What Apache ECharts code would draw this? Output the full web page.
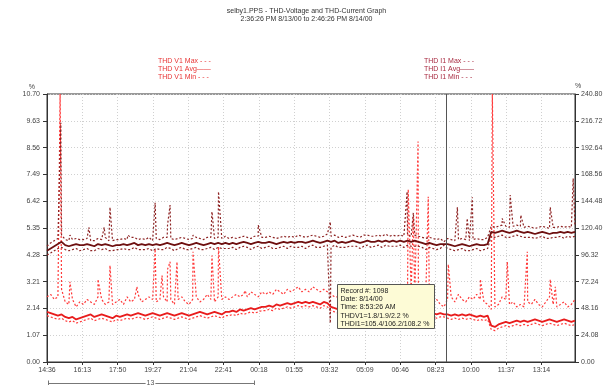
<!DOCTYPE html>
<html lang="en">
<head>
<meta charset="UTF-8">
<title>THD-Voltage and THD-Current Graph</title>
<script src="https://cdn.jsdelivr.net/npm/echarts@6/dist/echarts.min.js"></script>
<style>
  body { margin: 0; background: #fff; }
  #root { width: 613px; height: 385px; }
</style>
</head>
<body>
<div id="root"></div>
<script>
// records sampled every 10 minutes from 14:36:26 on 8/13/00
var STEP = 10;
var START = 14 * 60 + 36;
var CURSOR = 1097; // 8:53:26 AM

var vAvg = [
  2.0,1.95,1.9,1.85,1.9,1.8,1.75,1.8,1.7,1.75,
  1.8,1.85,1.9,1.8,1.85,1.9,1.85,1.8,1.75,1.85,
  1.8,1.85,1.9,1.85,1.9,1.95,1.9,1.85,1.9,1.95,
  1.9,1.85,1.9,1.95,1.9,1.85,1.9,1.95,1.9,1.85,
  1.9,1.95,2.0,1.95,1.9,1.95,2.0,1.95,1.9,2.0,
  2.0,2.05,2.0,2.1,2.05,2.1,2.15,2.1,2.15,2.2,
  2.2,2.25,2.2,2.3,2.25,2.3,2.35,2.3,2.35,2.4,
  2.35,2.4,2.35,2.4,2.35,2.3,2.4,2.35,2.2,2.15,
  2.1,2.15,2.1,2.05,2.1,2.05,2.0,2.05,2.0,2.05,
  2.0,1.95,2.0,2.05,2.0,1.95,2.0,1.95,2.0,1.95,
  1.95,2.0,1.95,1.9,1.95,2.0,1.95,1.9,1.95,1.9,
  1.9,1.85,1.9,1.85,1.9,1.85,1.9,1.85,1.8,1.85,
  1.8,1.85,1.45,1.4,1.5,1.55,1.6,1.55,1.6,1.65,
  1.6,1.65,1.6,1.65,1.7,1.65,1.6,1.65,1.7,1.65,
  1.6,1.65,1.7,1.65,1.6,1.65
];
var vMin = [
  1.85,1.8,1.75,1.7,1.75,1.65,1.6,1.65,1.55,1.6,
  1.65,1.7,1.75,1.65,1.7,1.75,1.7,1.65,1.6,1.7,
  1.65,1.7,1.75,1.7,1.75,1.8,1.75,1.7,1.75,1.8,
  1.75,1.7,1.75,1.8,1.75,1.7,1.75,1.8,1.75,1.7,
  1.75,1.8,1.85,1.8,1.75,1.8,1.85,1.8,1.75,1.85,
  1.85,1.9,1.85,1.95,1.9,1.95,2.0,1.95,2.0,2.05,
  2.05,2.1,2.05,2.15,2.1,2.15,2.2,2.15,2.2,2.25,
  2.2,2.25,2.2,2.25,2.2,2.15,2.25,2.2,2.05,2.0,
  1.95,2.0,1.95,1.9,1.95,1.9,1.85,1.9,1.85,1.9,
  1.85,1.8,1.85,1.9,1.85,1.8,1.85,1.8,1.85,1.8,
  1.8,1.85,1.8,1.75,1.8,1.85,1.8,1.75,1.8,1.8,
  1.75,1.7,1.75,1.7,1.75,1.7,1.75,1.7,1.65,1.7,
  1.65,1.7,1.3,1.25,1.35,1.4,1.45,1.4,1.45,1.5,
  1.45,1.5,1.45,1.5,1.55,1.5,1.45,1.5,1.55,1.5,
  1.45,1.5,1.55,1.5,1.45,1.5
];
var vMax = [
  2.6,2.7,2.5,2.6,2.9,2.4,2.3,2.5,2.2,2.4,
  2.3,2.5,2.4,2.3,2.6,2.5,2.3,2.4,2.3,2.4,
  2.5,2.3,2.6,2.4,2.5,2.7,2.4,2.5,2.6,2.5,
  2.4,2.5,2.6,2.4,2.5,2.3,2.5,2.6,2.4,2.3,
  2.5,2.6,2.4,2.5,2.7,2.5,2.4,2.6,2.5,2.6,
  2.5,2.6,2.7,2.6,2.7,2.6,2.8,2.7,2.6,2.8,
  2.7,2.8,2.7,2.9,2.8,2.7,2.9,2.8,2.9,3.0,
  2.8,2.9,2.8,3.0,2.9,2.8,2.9,2.8,2.7,2.6,
  2.6,2.7,2.5,2.6,2.5,2.6,2.4,2.5,2.6,2.5,
  2.6,2.4,2.7,2.5,2.6,2.4,2.5,2.6,2.5,2.6,
  2.8,2.5,2.6,2.7,2.5,2.6,2.4,2.5,2.3,2.2,
  2.5,2.6,2.4,2.7,2.5,2.4,2.6,2.5,2.7,2.5,
  2.4,2.3,2.1,2.2,2.3,2.6,2.5,2.3,2.4,2.2,
  2.3,2.2,2.4,2.3,2.5,2.3,2.2,2.4,2.6,2.3,
  2.2,2.3,2.4,2.2,2.3,2.5
];
// [minute, value] short peaks between samples
var vMaxSpikes = [
  [36, 10.7], [63, 3.2], [140, 3.3], [173, 3.85], [247, 3.0], [297, 4.5],
  [316, 3.45], [331, 3.7], [338, 4.0], [357, 4.0], [401, 4.4], [453, 4.25],
  [471, 4.6], [544, 2.85], [992, 6.9], [1006, 5.8], [1019, 8.8], [1047, 6.6],
  [1102, 3.9], [1190, 3.3], [1223, 10.7], [1264, 4.0], [1319, 4.4],
  [1382, 3.3], [1396, 3.0]
];

var iAvg = [
  100,102,104,106,108,105,104,105,106,105,
  105,106,105,104,106,105,106,105,104,105,
  105,106,105,106,107,105,106,105,106,105,
  106,105,106,107,106,105,106,107,106,105,
  106,107,106,105,106,107,106,107,106,107,
  106,107,106,107,108,107,106,107,108,107,
  107,108,107,106,107,108,107,108,107,108,
  108,107,108,109,108,107,108,109,108,109,
  107,108,107,108,109,108,107,108,109,108,
  108,109,108,109,108,109,108,109,108,109,
  108,109,108,107,106,107,106,105,106,106,
  106,105,104,105,106,105,104,105,106,105,
  105,106,117,116,117,118,117,116,117,118,
  117,116,117,116,115,116,117,116,115,116,
  116,117,116,117,116,117
];
var iMin = [
  96,98,100,102,103,101,100,101,102,100,
  101,102,100,100,102,101,102,100,100,101,
  101,102,101,101,103,101,101,101,102,100,
  102,101,101,103,102,100,102,103,101,101,
  102,103,101,101,102,103,101,103,102,102,
  102,103,101,103,104,103,101,103,104,102,
  103,104,102,102,103,104,102,104,103,103,
  104,102,104,105,103,103,104,105,103,105,
  103,103,103,104,104,104,102,104,105,103,
  104,105,103,105,104,104,104,105,103,105,
  104,104,104,103,101,103,102,101,102,105,
  102,101,100,101,102,100,100,101,102,100,
  101,102,113,112,113,114,112,112,113,114,
  113,112,112,112,111,112,113,111,111,112,
  112,113,111,113,112,113
];
var iMax = [
  104,107,109,111,114,110,109,110,111,110,
  110,111,109,109,111,110,112,109,109,110,
  110,111,110,112,112,110,111,110,112,109,
  111,110,112,112,111,110,111,112,111,110,
  111,112,111,110,112,112,111,112,111,113,
  111,112,111,112,113,112,111,113,113,112,
  112,113,112,111,112,113,112,113,112,114,
  113,112,113,114,113,112,113,115,113,114,
  112,113,112,113,114,113,112,114,114,113,
  113,114,113,115,113,114,113,114,113,114,
  113,114,113,112,111,112,111,110,111,108,
  111,110,109,110,111,110,109,110,111,110,
  110,112,122,121,122,123,122,121,122,123,
  122,121,122,121,120,121,122,121,120,121,
  121,122,121,122,121,122
];
var iMaxSpikes = [
  [38, 215], [63, 114], [115, 121], [157, 121], [173, 139], [222, 114],
  [297, 143], [331, 123], [338, 141], [401, 114], [453, 135], [471, 153],
  [580, 123], [778, 126], [989, 153], [1006, 134], [1127, 139], [1154, 129],
  [1168, 148], [1250, 129], [1272, 150], [1301, 132], [1382, 139], [1445, 165]
];
var iMinDips = [[778, 35]];

var leftTicks = { min: 0, max: 10.7, interval: 1.07 };
var rightTicks = { min: 0, max: 240.8, interval: 24.08 };

function onGrid(arr) {
  return arr.map(function (v, k) { return [k * STEP, v]; });
}
function withExtra(arr, extra) {
  return onGrid(arr).concat(extra).sort(function (a, b) { return a[0] - b[0]; });
}
function clock(m) {
  var t = Math.round(START + m) % 1440;
  var h = Math.floor(t / 60), mm = t % 60;
  return (h < 10 ? '0' : '') + h + ':' + (mm < 10 ? '0' : '') + mm;
}

var FONT = 'Liberation Sans';
var vRed = '#e81c1c', vRedLight = '#ff3a3a';
var iDark = '#6e1010', iDarkLight = '#8e2424';

var chart = echarts.init(document.getElementById('root'));

function line(name, data, yIndex, color, dashed, z) {
  return {
    name: name,
    type: 'line',
    yAxisIndex: yIndex,
    data: data,
    showSymbol: false,
    animation: false,
    z: z,
    lineStyle: { color: color, width: dashed ? 1.2 : 1.8, type: dashed ? [2, 2] : 'solid' }
  };
}

var series = [
  line('THD V1 Max', withExtra(vMax, vMaxSpikes), 0, vRedLight, true, 2),
  line('THD V1 Min', onGrid(vMin), 0, vRedLight, true, 2),
  line('THD V1 Avg', onGrid(vAvg), 0, vRed, false, 3),
  line('THD I1 Max', withExtra(iMax, iMaxSpikes), 1, iDarkLight, true, 2),
  line('THD I1 Min', withExtra(iMin, iMinDips), 1, iDarkLight, true, 2),
  line('THD I1 Avg', onGrid(iAvg), 1, iDark, false, 3)
];
series[2].markLine = {
  silent: true,
  symbol: ['none', 'none'],
  label: { show: false },
  lineStyle: { color: '#555', type: 'solid', width: 1 },
  data: [{ xAxis: CURSOR }]
};

var axisText = { fontSize: 7, color: '#444', fontFamily: FONT };

chart.setOption({
  backgroundColor: '#fff',
  animation: false,
  textStyle: { fontFamily: FONT },
  title: {
    text: 'selby1.PPS - THD-Voltage and THD-Current Graph',
    subtext: '2:36:26 PM 8/13/00 to 2:46:26 PM 8/14/00',
    left: 'center',
    top: 3,
    itemGap: 1,
    textStyle: { fontSize: 7, fontWeight: 'normal', color: '#333', fontFamily: FONT },
    subtextStyle: { fontSize: 7, color: '#333', fontFamily: FONT }
  },
  grid: {
    left: 47, right: 38, top: 94, bottom: 23,
    show: true, borderColor: '#333', borderWidth: 1
  },
  xAxis: {
    type: 'value',
    min: 0, max: 1450, interval: 97,
    axisLine: { lineStyle: { color: '#333' } },
    axisTick: { length: 3, lineStyle: { color: '#333' } },
    axisLabel: Object.assign({ margin: 5, showMaxLabel: false, formatter: clock }, axisText),
    splitLine: { show: true, lineStyle: { color: '#d0d0d0', type: [1, 2] } }
  },
  yAxis: [{
    type: 'value',
    min: leftTicks.min, max: leftTicks.max, interval: leftTicks.interval,
    name: '%',
    nameGap: 2,
    nameTextStyle: { fontSize: 7, color: '#444', align: 'right', padding: [0, 12, 0, 0] },
    axisLine: { show: true, lineStyle: { color: '#333' } },
    axisTick: { show: true, length: 4, lineStyle: { color: '#333' } },
    axisLabel: Object.assign({ margin: 7, formatter: function (v) { return v.toFixed(2); } }, axisText),
    splitLine: { show: true, lineStyle: { color: '#d0d0d0', type: [1, 2] } }
  }, {
    type: 'value',
    min: rightTicks.min, max: rightTicks.max, interval: rightTicks.interval,
    name: '%',
    nameGap: 4,
    nameTextStyle: { fontSize: 7, color: '#444', align: 'left', padding: [0, 0, 0, 0] },
    axisLine: { show: true, lineStyle: { color: '#333' } },
    axisTick: { show: true, length: 4, lineStyle: { color: '#333' } },
    axisLabel: Object.assign({ margin: 6, formatter: function (v) { return v.toFixed(2); } }, axisText),
    splitLine: { show: false }
  }],
  graphic: [
    // voltage legend
    { type: 'text', left: 158, top: 58, style: { text: 'THD V1 Max - - -', fontSize: 7, fill: '#e83434', fontFamily: FONT } },
    { type: 'text', left: 158, top: 66, style: { text: 'THD V1 Avg——', fontSize: 7, fill: '#e83434', fontFamily: FONT } },
    { type: 'text', left: 158, top: 74, style: { text: 'THD V1 Min - - -', fontSize: 7, fill: '#e83434', fontFamily: FONT } },
    // current legend
    { type: 'text', left: 424, top: 58, style: { text: 'THD I1 Max - - -', fontSize: 7, fill: '#a82a40', fontFamily: FONT } },
    { type: 'text', left: 424, top: 66, style: { text: 'THD I1 Avg——', fontSize: 7, fill: '#a82a40', fontFamily: FONT } },
    { type: 'text', left: 424, top: 74, style: { text: 'THD I1 Min - - -', fontSize: 7, fill: '#a82a40', fontFamily: FONT } },
    // readout box at the cursor
    {
      type: 'group', left: 337, top: 284, z: 100,
      children: [
        { type: 'rect', z: 100, shape: { x: 0, y: 0, width: 97, height: 44 }, style: { fill: '#fdfbd6', stroke: '#555', lineWidth: 1 } },
        { type: 'text', z: 101, x: 3, y: 2, style: {
          text: 'Record #: 1098\nDate: 8/14/00\nTime: 8:53:26 AM\nTHDV1=1.8/1.9/2.2 %\nTHDI1=105.4/106.2/108.2 %',
          fontSize: 7, lineHeight: 8.4, fill: '#222', fontFamily: FONT } }
      ]
    },
    // span marker under the axis
    {
      type: 'group', left: 46, top: 378,
      children: [
        { type: 'line', shape: { x1: 0, y1: 3, x2: 206, y2: 3 }, style: { stroke: '#777', lineWidth: 1 } },
        { type: 'line', shape: { x1: 0, y1: 0, x2: 0, y2: 6 }, style: { stroke: '#777', lineWidth: 1 } },
        { type: 'line', shape: { x1: 206, y1: 0, x2: 206, y2: 6 }, style: { stroke: '#777', lineWidth: 1 } },
        { type: 'text', x: 102, y: 3, style: { text: '13', fontSize: 7, fill: '#555', align: 'center', verticalAlign: 'middle',
          backgroundColor: '#fff', padding: [0, 1], fontFamily: FONT } }
      ]
    }
  ],
  series: series
});
</script>
</body>
</html>
